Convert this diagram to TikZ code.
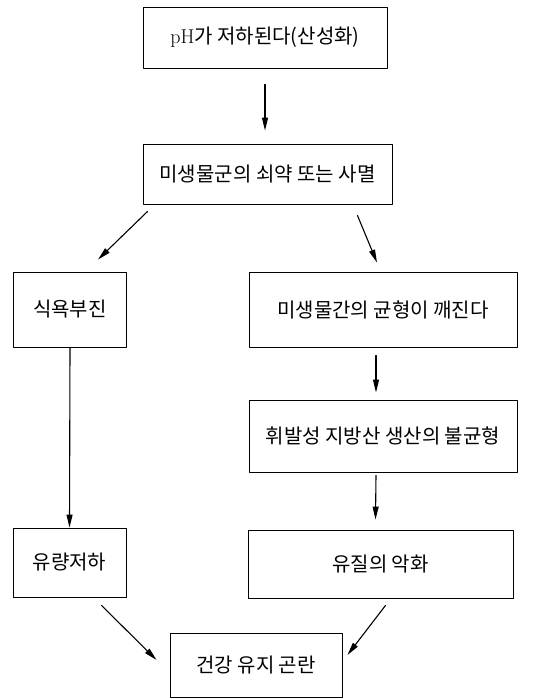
\documentclass[tikz,border=0pt]{standalone}
\usepackage{fontspec}
\newfontfamily\kr{Noto Sans CJK KR}
\usetikzlibrary{arrows.meta}

\begin{document}
\begin{tikzpicture}[line cap=round,line join=round,>={Triangle[length=13pt,width=6pt]},x=1pt,y=-1pt,
  stage/.style={draw,line width=0.9pt,inner sep=0pt,font=\kr\fontsize{20}{24}\selectfont},
  flow/.style={->,line width=1.1pt}]
\useasboundingbox (0,0) rectangle (554,699);
% top of the chain
\node [stage,minimum width=244,minimum height=61] (acid) at (265,37.5) {{\rmfamily pH}가 저하된다(산성화)};
\node [stage,minimum width=249,minimum height=60] (weak) at (267.5,174) {미생물군의 쇠약 또는 사멸};
% left branch
\node [stage,minimum width=113,minimum height=75] (appetite) at (70,309.5) {식욕부진};
\node [stage,minimum width=113,minimum height=69] (yield) at (69.5,562.5) {유량저하};
% right branch
\node [stage,minimum width=268,minimum height=75] (balance) at (383,309.5) {미생물간의 균형이 깨진다};
\node [stage,minimum width=268,minimum height=72] (fatty) at (383,436) {휘발성 지방산 생산의 불균형};
\node [stage,minimum width=265,minimum height=68] (quality) at (380.5,564) {유질의 악화};
% result
\node [stage,minimum width=172,minimum height=64] (health) at (256,665) {건강 유지 곤란};

\draw [flow] ([shift={(0,16)}]acid.south) -- ([shift={(-2.5,-13)}]weak.north);
\draw [flow] ([shift={(5,7)}]weak.south west) -- ([shift={(28,-12)}]appetite.north);
\draw [flow] ([shift={(-35,11)}]weak.south east) -- ([shift={(-6,-9)}]balance.north);
\draw [flow] ([shift={(-7,8)}]balance.south) -- ([shift={(-7,-7)}]fatty.north);
\draw [flow] (appetite.south) -- (yield.north);
\draw [flow] ([shift={(-7,3)}]fatty.south) -- ([shift={(-5,-10)}]quality.north);
\draw [flow] ([shift={(32,8)}]yield.south) -- ([shift={(-13,-5)}]health.west);
\draw [flow] ([shift={(5,7)}]quality.south) -- ([shift={(5,-10)}]health.east);
\end{tikzpicture}
\end{document}
